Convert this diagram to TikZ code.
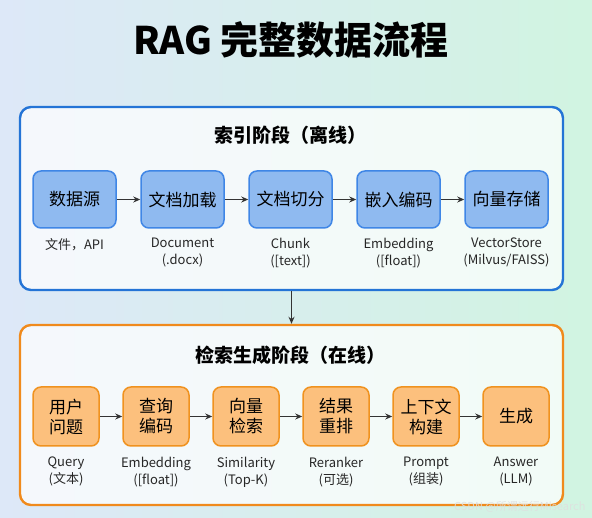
\documentclass[tikz,border=0pt]{standalone}
\usepackage{fontspec}
\setmainfont{Noto Sans CJK SC}
\usetikzlibrary{arrows.meta}
\definecolor{bgleft}{HTML}{DDE8F8}
\definecolor{bgright}{HTML}{D1F4E1}
\definecolor{idxframe}{HTML}{2474D6}
\definecolor{idxfill}{HTML}{8FBAF0}
\definecolor{idxline}{HTML}{3F86E6}
\definecolor{retframe}{HTML}{F08A1C}
\definecolor{retfill}{HTML}{FCC07D}
\definecolor{retline}{HTML}{F0921F}
\definecolor{arrowgray}{HTML}{333333}

\begin{document}
\begin{tikzpicture}[
  x=1pt,y=-1pt,
  line join=round,
  stage/.style={draw,line width=2.4pt,rounded corners=11pt,fill=white,fill opacity=0.72,text opacity=1,inner sep=0pt},
  stagetitle/.style={font=\fontsize{19}{22}\selectfont\bfseries,text=black},
  idxbox/.style={draw=idxline,fill=idxfill,line width=1.5pt,rounded corners=8pt,minimum width=83pt,minimum height=57pt,font=\fontsize{17}{20}\selectfont,inner sep=0pt},
  retbox/.style={draw=retline,fill=retfill,line width=1.5pt,rounded corners=8pt,minimum width=66pt,minimum height=59pt,font=\fontsize{17}{20}\selectfont,align=center,inner sep=0pt},
  sublabel/.style={anchor=north,align=center,inner sep=0pt,font=\fontsize{13}{17}\selectfont,text=black!85},
  flow/.style={draw=arrowgray,line width=1.4pt,-{Stealth[length=7pt,width=6pt]}}
]
  % Backdrop and fixed page size.
  \shade[left color=bgleft,right color=bgright] (0,0) rectangle (592,518);
  \useasboundingbox (0,0) rectangle (592,518);

  \node[font=\fontsize{38}{44}\selectfont\bfseries] (title) at (291,40) {RAG 完整数据流程};

  % Indexing stage (offline).
  \node[stage,draw=idxframe,minimum width=543pt,minimum height=183pt] (idx) at (291.5,198.5) {};
  \node[stagetitle] (idxtitle) at (290,135) {索引阶段（离线）};

  \node[idxbox] (src) at (74.5,199.5) {数据源};
  \node[idxbox] (load) at (182.5,199.5) {文档加载};
  \node[idxbox] (split) at (290.5,199.5) {文档切分};
  \node[idxbox] (embed) at (398.5,199.5) {嵌入编码};
  \node[idxbox] (store) at (506.5,199.5) {向量存储};

  \node[sublabel] (srcl) at (74.5,238) {文件，API};
  \node[sublabel] (loadl) at (182.5,238) {Document\\(.docx)};
  \node[sublabel] (splitl) at (290.5,238) {Chunk\\([text])};
  \node[sublabel] (embedl) at (398.5,238) {Embedding\\([float])};
  \node[sublabel] (storel) at (506.5,238) {VectorStore\\(Milvus/FAISS)};

  \draw[flow] (src) -- (load);
  \draw[flow] (load) -- (split);
  \draw[flow] (split) -- (embed);
  \draw[flow] (embed) -- (store);

  % Retrieval and generation stage (online).
  \node[stage,draw=retframe,minimum width=543pt,minimum height=180pt] (ret) at (291.5,415) {};
  \node[stagetitle] (rettitle) at (290,355) {检索生成阶段（在线）};

  \node[retbox] (query) at (66,416.5) {用户\\问题};
  \node[retbox] (qenc) at (156,416.5) {查询\\编码};
  \node[retbox] (search) at (246,416.5) {向量\\检索};
  \node[retbox] (rerank) at (336,416.5) {结果\\重排};
  \node[retbox] (ctx) at (426,416.5) {上下文\\构建};
  \node[retbox] (gen) at (516,416.5) {生成};

  \node[sublabel] (queryl) at (66,457) {Query\\(文本)};
  \node[sublabel] (qencl) at (156,457) {Embedding\\([float])};
  \node[sublabel] (searchl) at (246,457) {Similarity\\(Top-K)};
  \node[sublabel] (rerankl) at (336,457) {Reranker\\(可选)};
  \node[sublabel] (ctxl) at (426,457) {Prompt\\(组装)};
  \node[sublabel] (genl) at (516,457) {Answer\\(LLM)};

  \draw[flow] (query) -- (qenc);
  \draw[flow] (qenc) -- (search);
  \draw[flow] (search) -- (rerank);
  \draw[flow] (rerank) -- (ctx);
  \draw[flow] (ctx) -- (gen);

  % Stage hand-over.
  \draw[flow] (idx.south) -- (ret.north);

  \node[anchor=east,font=\fontsize{11}{13}\selectfont,text=white!75!gray,opacity=0.85] (mark) at (589,507) {CSDN @所谓远行Misearch};
\end{tikzpicture}
\end{document}
